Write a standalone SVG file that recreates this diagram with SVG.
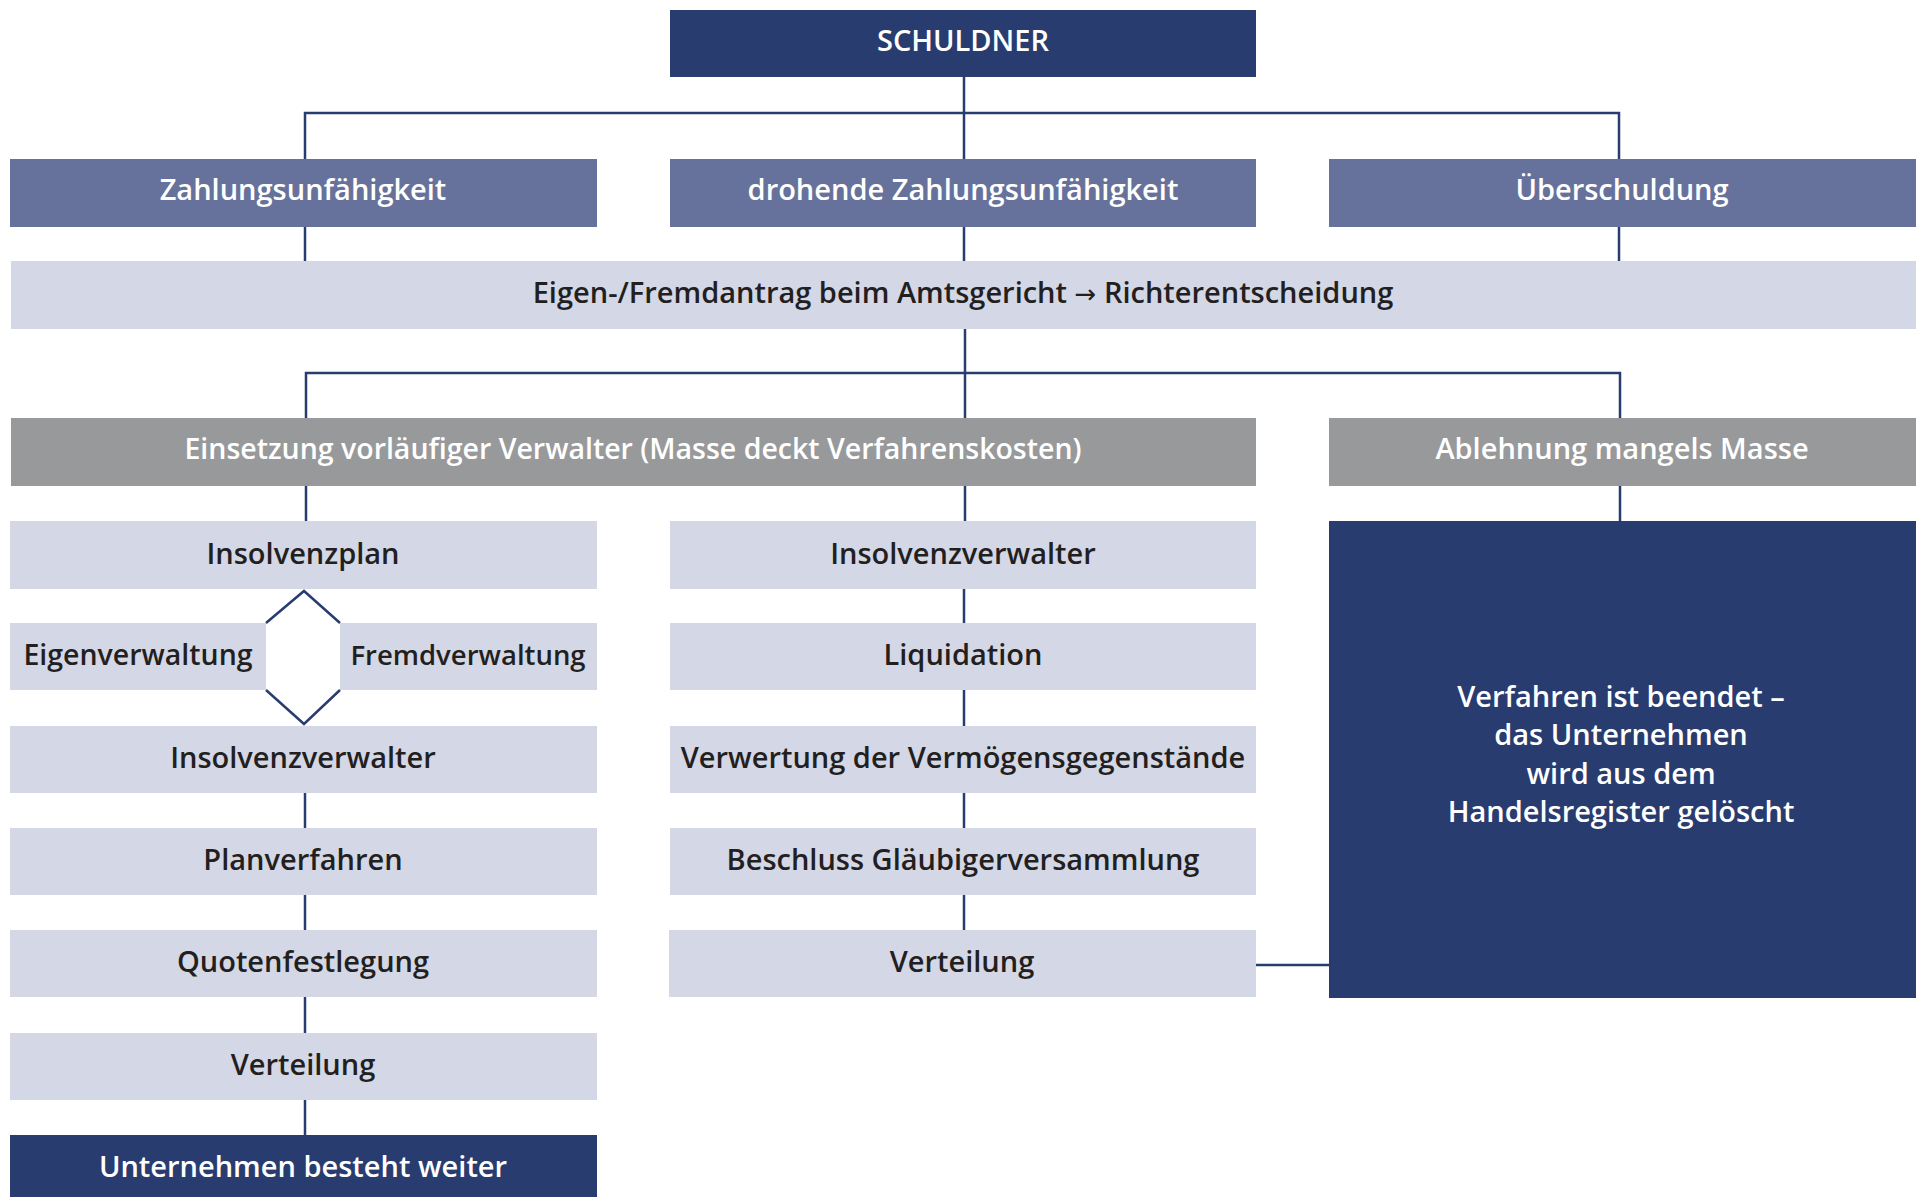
<svg xmlns="http://www.w3.org/2000/svg" width="1923" height="1197" viewBox="0 0 1923 1197">
<style>
.dark{fill:#283c70}
.mid{fill:#67729c}
.light{fill:#d4d7e6}
.gray{fill:#98999b}
text{font-family:"Open Sans","Noto Sans",sans-serif;font-weight:600;font-size:29px;text-anchor:middle}
.w{fill:#ffffff}
.k{fill:#231f20}
.arr{font-family:"DejaVu Sans",sans-serif;font-weight:400;font-size:26px}
.con{fill:none;stroke:#283c70;stroke-width:2.5}
</style>
<rect width="1923" height="1197" fill="#ffffff"/>
<g id="connectors">
<path class="con" d="M964 77V159M305 159V113H1619V159"/>
<path class="con" d="M305 227V261M964 227V261M1619 227V261"/>
<path class="con" d="M965 329V418M306 418V373H1620V418"/>
<path class="con" d="M306 486V521M965 486V521M1620 486V521"/>
<path class="con" d="M266 623L304 591L340 623M266 690L304 724L340 690"/>
<path class="con" d="M305 793V828M305 895V930M305 997V1033M305 1100V1135"/>
<path class="con" d="M964 589V623M964 690V726M964 793V828M964 895V930"/>
<path class="con" d="M1256 965H1329"/>
</g>
<g id="schuldner"><rect class="dark" x="670" y="10" width="586" height="67"/><text class="w" x="963" y="51">SCHULDNER</text></g>
<g id="zahlungsunfaehigkeit"><rect class="mid" x="10" y="159" width="587" height="68"/><text class="w" x="303" y="200">Zahlungsunfähigkeit</text></g>
<g id="drohende"><rect class="mid" x="670" y="159" width="586" height="68"/><text class="w" x="963" y="200">drohende Zahlungsunfähigkeit</text></g>
<g id="ueberschuldung"><rect class="mid" x="1329" y="159" width="587" height="68"/><text class="w" x="1622" y="200">Überschuldung</text></g>
<g id="antrag"><rect class="light" x="11" y="261" width="1905" height="68"/><text class="k" x="963" y="303">Eigen-/Fremdantrag beim Amtsgericht <tspan class="arr">→</tspan> Richterentscheidung</text></g>
<g id="einsetzung"><rect class="gray" x="11" y="418" width="1245" height="68"/><text class="w" x="633" y="459" style="font-size:28.5px">Einsetzung vorläufiger Verwalter (Masse deckt Verfahrenskosten)</text></g>
<g id="ablehnung"><rect class="gray" x="1329" y="418" width="587" height="68"/><text class="w" x="1622" y="459">Ablehnung mangels Masse</text></g>
<g id="insolvenzplan"><rect class="light" x="10" y="521" width="587" height="68"/><text class="k" x="303" y="564">Insolvenzplan</text></g>
<g id="eigenverwaltung"><rect class="light" x="10" y="623" width="256" height="67"/><text class="k" x="138" y="665" style="font-size:28.5px">Eigenverwaltung</text></g>
<g id="fremdverwaltung"><rect class="light" x="340" y="623" width="257" height="67"/><text class="k" x="468" y="665" style="font-size:27.5px">Fremdverwaltung</text></g>
<g id="insolvenzverwalter-links"><rect class="light" x="10" y="726" width="587" height="67"/><text class="k" x="303" y="768">Insolvenzverwalter</text></g>
<g id="planverfahren"><rect class="light" x="10" y="828" width="587" height="67"/><text class="k" x="303" y="870">Planverfahren</text></g>
<g id="quotenfestlegung"><rect class="light" x="10" y="930" width="587" height="67"/><text class="k" x="303" y="972">Quotenfestlegung</text></g>
<g id="verteilung-links"><rect class="light" x="10" y="1033" width="587" height="67"/><text class="k" x="303" y="1075">Verteilung</text></g>
<g id="unternehmen"><rect class="dark" x="10" y="1135" width="587" height="70"/><text class="w" x="303" y="1177">Unternehmen besteht weiter</text></g>
<g id="insolvenzverwalter-mitte"><rect class="light" x="670" y="521" width="586" height="68"/><text class="k" x="963" y="564">Insolvenzverwalter</text></g>
<g id="liquidation"><rect class="light" x="670" y="623" width="586" height="67"/><text class="k" x="963" y="665">Liquidation</text></g>
<g id="verwertung"><rect class="light" x="670" y="726" width="586" height="67"/><text class="k" x="963" y="768">Verwertung der Vermögensgegenstände</text></g>
<g id="beschluss"><rect class="light" x="670" y="828" width="586" height="67"/><text class="k" x="963" y="870">Beschluss Gläubigerversammlung</text></g>
<g id="verteilung-mitte"><rect class="light" x="669" y="930" width="587" height="67"/><text class="k" x="962" y="972">Verteilung</text></g>
<g id="beendet"><rect class="dark" x="1329" y="521" width="587" height="477"/>
<text class="w" x="1621" y="707">Verfahren ist beendet –</text>
<text class="w" x="1621" y="745">das Unternehmen</text>
<text class="w" x="1621" y="784">wird aus dem</text>
<text class="w" x="1621" y="822">Handelsregister gelöscht</text></g>
</svg>
